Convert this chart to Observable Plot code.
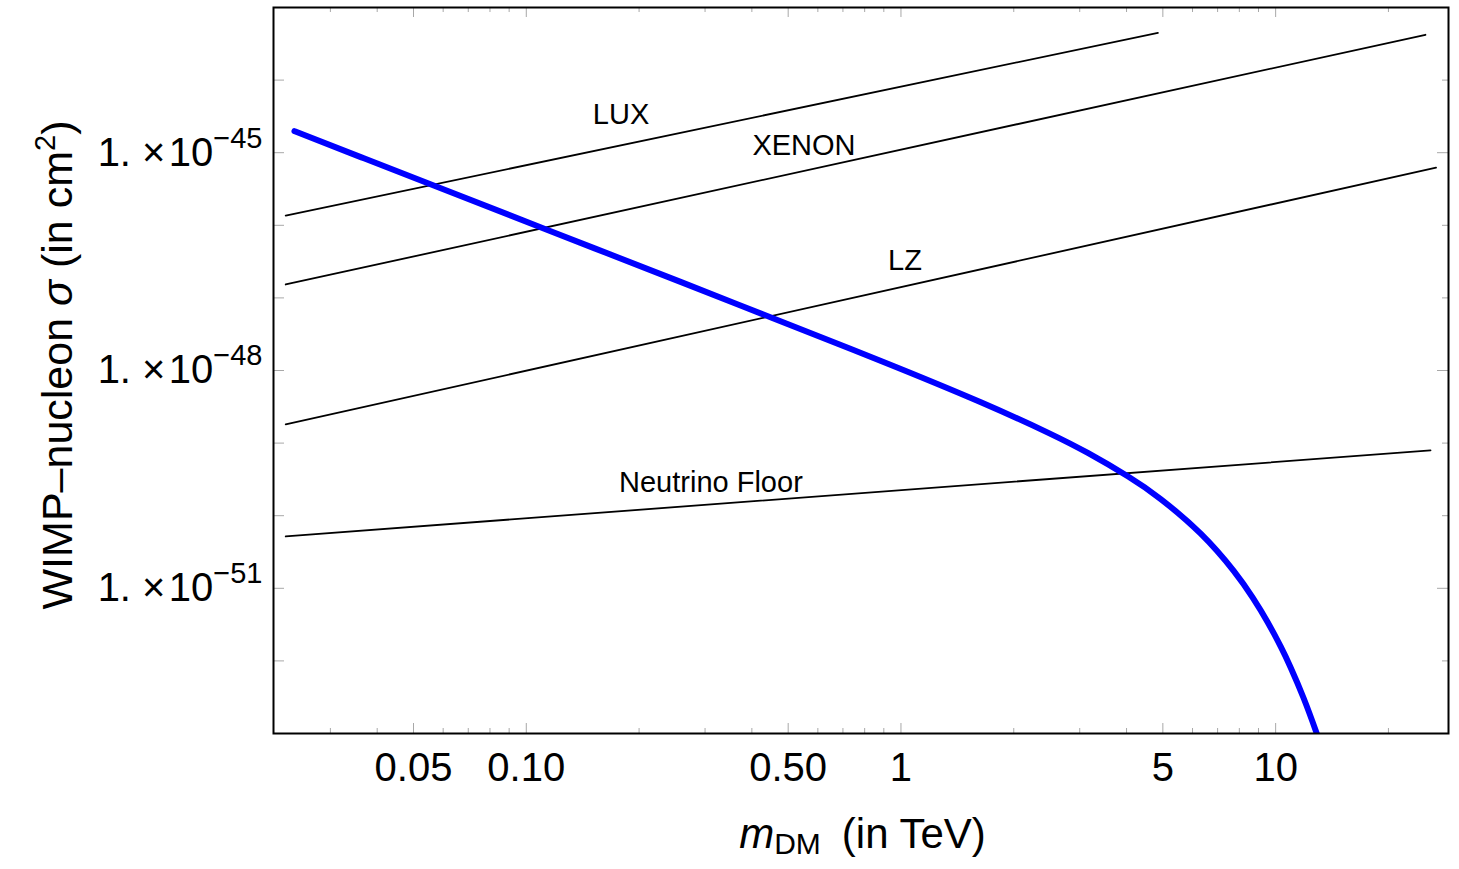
<!DOCTYPE html>
<html><head><meta charset="utf-8">
<script src="https://cdn.jsdelivr.net/npm/d3@7"></script>
<script src="https://cdn.jsdelivr.net/npm/@observablehq/plot@0.6"></script>
<style>body{margin:0;background:#fff;} #chart svg{display:block;}</style>
</head><body><div id="chart"></div>
<script>
// ---- data ----
const curveMass  = [0.02406, 0.03631, 0.05684, 0.1117, 0.2591, 0.45, 0.8845, 1.634, 2.466, 3.153, 4.03, 4.935, 6.31, 7.727, 8.685, 9.522, 10.31, 10.965, 11.88, 12.79, 13.18];
const curveSigma = [1.977e-45, 8.63e-46, 3.50e-46, 8.98e-47, 1.648e-47, 5.38e-48, 1.352e-48, 3.65e-49, 1.395e-49, 7.31e-50, 3.49e-50, 1.694e-50, 5.65e-51, 1.734e-51, 7.43e-52, 3.41e-52, 1.581e-52, 8.13e-53, 3.06e-53, 1.10e-53, 6.98e-54];

const limitNames = ["LUX", "XENON", "LZ", "Neutrino Floor"];
const limitMassStart = [0.0228, 0.0228, 0.0228, 0.0228];
const limitMassEnd   = [4.85, 25.1, 26.8, 25.9];
const limitSigmaStart = [1.36e-46, 1.53e-47, 1.81e-49, 5.20e-51];
const limitSigmaEnd   = [4.48e-44, 4.21e-44, 6.22e-46, 7.93e-50];

const labelMass  = [0.179, 0.551, 1.025, 0.311];
const labelSigma = [3.33e-45, 1.25e-45, 3.27e-47, 2.88e-50];

const xDomain = [0.02115, 28.93];
const yDomain = [1e-53, 1e-43];
const xMajorTicks = [0.05, 0.1, 0.5, 1, 5, 10];
const xTickLabels = ["0.05", "0.10", "0.50", "1", "5", "10"];
const xMinorTicks = [0.03, 0.04, 0.06, 0.07, 0.08, 0.09, 0.2, 0.3, 0.4, 0.6, 0.7, 0.8, 0.9, 2, 3, 4, 6, 7, 8, 9, 20];
const yLabelTicks = [1e-45, 1e-48, 1e-51];
const yDecadeTicks = [1e-44, 1e-45, 1e-46, 1e-47, 1e-48, 1e-49, 1e-50, 1e-51, 1e-52];

// ---- derived tables ----
const curve = curveMass.map((m, i) => ({m, s: curveSigma[i]}));
const limits = limitNames.flatMap((name, i) => [
  {name, m: limitMassStart[i], s: limitSigmaStart[i]},
  {name, m: limitMassEnd[i], s: limitSigmaEnd[i]}
]);
const labels = limitNames.map((name, i) => ({name, m: labelMass[i], s: labelSigma[i]}));
const xLabelMap = new Map(xMajorTicks.map((t, i) => [t, xTickLabels[i]]));
const yMinorDecades = yDecadeTicks.filter(d => !yLabelTicks.includes(d));

// ---- layout ----
const W = 1459, H = 869;
const mTop = 7, mRight = 11, mBottom = 136, mLeft = 273;
const innerW = W - mLeft - mRight, innerH = H - mTop - mBottom;
const FONT = "'Liberation Sans', Arial, Helvetica, sans-serif";
const tickGrey = "#a8a8a8";

const svg = Plot.plot({
  width: W, height: H,
  marginTop: mTop, marginRight: mRight, marginBottom: mBottom, marginLeft: mLeft,
  style: {fontFamily: FONT, background: "white", color: "black"},
  x: {type: "log", domain: xDomain},
  y: {type: "log", domain: yDomain},
  marks: [
    // inward frame ticks
    Plot.tickX(xMinorTicks, {x: d => d, stroke: tickGrey, insetTop: innerH - 5}),
    Plot.tickX(xMajorTicks, {x: d => d, stroke: tickGrey, insetTop: innerH - 10}),
    Plot.tickX(xMinorTicks, {x: d => d, stroke: tickGrey, insetBottom: innerH - 5}),
    Plot.tickX(xMajorTicks, {x: d => d, stroke: tickGrey, insetBottom: innerH - 10}),
    Plot.tickY(yDecadeTicks, {y: d => d, stroke: tickGrey, insetRight: innerW - 11}),
    Plot.tickY(yMinorDecades, {y: d => d, stroke: tickGrey, insetLeft: innerW - 6}),
    Plot.tickY(yLabelTicks, {y: d => d, stroke: tickGrey, insetLeft: innerW - 11}),
    // limit lines
    Plot.line(limits, {x: "m", y: "s", z: "name", stroke: "black", strokeWidth: 1.8}),
    // model curve
    Plot.line(curve, {x: "m", y: "s", stroke: "#0000ff", strokeWidth: 6, curve: "natural", clip: true}),
    // line labels
    Plot.text(labels, {x: "m", y: "s", text: "name", fontSize: 29, fill: "black"}),
    Plot.frame({stroke: "black", strokeWidth: 2}),
    Plot.axisX(xMajorTicks, {tickSize: 0, tickPadding: 19, fontSize: 40, tickFormat: d => xLabelMap.get(d), label: null}),
    Plot.axisY(yLabelTicks, {tickSize: 0, tickPadding: 11, fontSize: 40, tickFormat: d => String(Math.round(Math.log10(d))).replace("-", "\u2212"), label: null})
  ]
});

// rebuild y tick labels as 1. × 10^exp
svg.querySelectorAll('[aria-label="y-axis tick label"] text').forEach(t => {
  const exp = t.textContent;
  t.textContent = "";
  const sel = d3.select(t);
  sel.append("tspan").text("1. \u00d7\u200a10");
  sel.append("tspan").attr("font-size", 29).attr("dy", "-0.62em").text(exp);
});

const s = d3.select(svg);
// y axis title
const yt = s.append("text")
  .attr("transform", `translate(72,${mTop + innerH / 2 - 5}) rotate(-90)`)
  .attr("text-anchor", "middle").attr("font-size", 43).attr("fill", "black");
yt.append("tspan").text("WIMP\u2013nucleon ");
yt.append("tspan").attr("font-style", "italic").text("\u03c3");
yt.append("tspan").text(" (in cm");
yt.append("tspan").attr("font-size", 29).attr("dy", "-0.6em").text("2");
yt.append("tspan").attr("dy", "0.4em").text(")");

// x axis title
const xt = s.append("text")
  .attr("x", mLeft + (innerW) / 2 + 2).attr("y", 848)
  .attr("text-anchor", "middle").attr("font-size", 42).attr("fill", "black");
xt.append("tspan").attr("font-style", "italic").text("m");
xt.append("tspan").attr("font-size", 30).attr("dy", "0.2em").text("DM");
xt.append("tspan").attr("dy", "-0.14em").text("\u2002(in TeV)");

document.getElementById("chart").appendChild(svg);
</script>
</body></html>
